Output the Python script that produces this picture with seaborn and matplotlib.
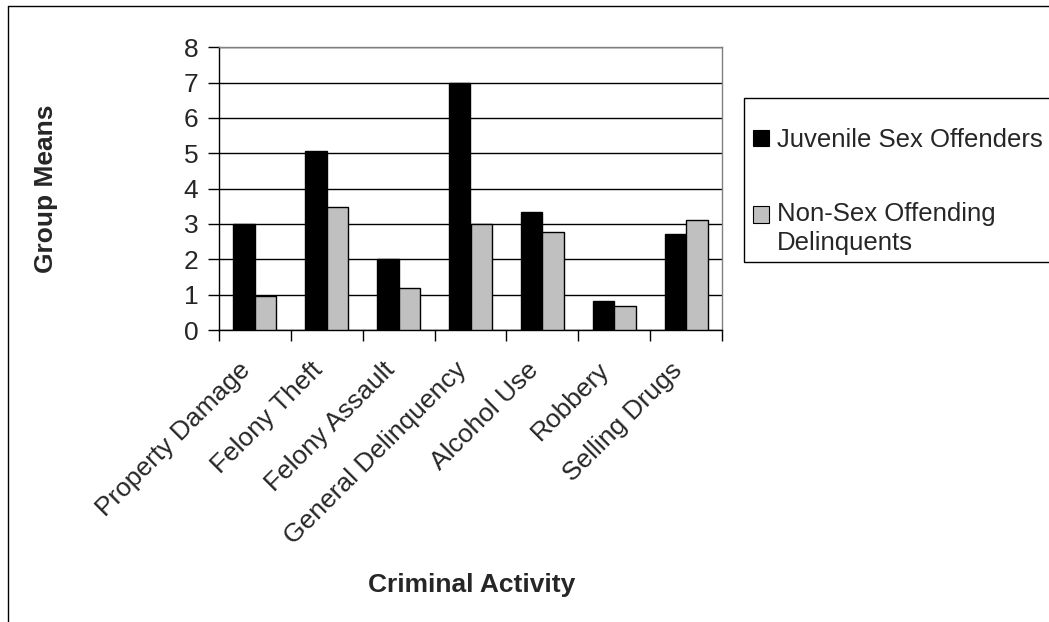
import matplotlib
matplotlib.use("Agg")
import matplotlib.pyplot as plt
from matplotlib.lines import Line2D
from matplotlib.patches import Rectangle
from matplotlib.ticker import FixedLocator
from matplotlib.transforms import ScaledTranslation
import seaborn as sns
import pandas as pd

categories = ["Property Damage", "Felony Theft", "Felony Assault", "General Delinquency",
              "Alcohol Use", "Robbery", "Selling Drugs"]
juvenile_sex_offenders = [3.0, 5.07, 2.0, 7.0, 3.35, 0.82, 2.73]
non_sex_offending = [0.95, 3.48, 1.18, 3.0, 2.77, 0.68, 3.11]
series_names = ["Juvenile Sex Offenders", "Non-Sex Offending\nDelinquents"]
y_ticks = [0, 1, 2, 3, 4, 5, 6, 7, 8]

df = pd.DataFrame({
    "Criminal Activity": categories * 2,
    "Group Means": juvenile_sex_offenders + non_sex_offending,
    "Group": [series_names[0]] * len(categories) + [series_names[1]] * len(categories),
})

sns.set_theme(style="white")
plt.rcParams["font.family"] = ["Liberation Sans", "DejaVu Sans"]

FS = 19
LFS = 18.5
W, H = 1049, 622
fig = plt.figure(figsize=(W / 100, H / 100), dpi=100)
ax = fig.add_axes([219 / W, 1 - 330 / H, (722 - 219) / W, (330 - 47.3) / H])

sns.barplot(data=df, x="Criminal Activity", y="Group Means", hue="Group",
            order=categories, hue_order=series_names,
            palette=["#000000", "#C0C0C0"], width=0.6, ax=ax,
            edgecolor="black", linewidth=1.0, saturation=1, zorder=3)

ax.set_ylim(0, 8)
ax.set_xlim(-0.5, len(categories) - 0.5)
ax.yaxis.set_major_locator(FixedLocator(y_ticks))
ax.set_yticklabels([str(t) for t in y_ticks], fontsize=FS)
ax.grid(axis="y", color="black", linewidth=1.0, zorder=0)
ax.set_axisbelow(True)

# x ticks: labels at centers, tick marks at boundaries
ax.set_xticks(range(len(categories)))
ax.set_xticklabels(categories, rotation=45, ha="right", va="center",
                   rotation_mode="anchor", fontsize=FS)
ax.tick_params(axis="x", which="major", length=0, pad=26)
shift = ScaledTranslation(-8 / 100, 0, fig.dpi_scale_trans)
for lab in ax.get_xticklabels():
    lab.set_transform(lab.get_transform() + shift)
ax.xaxis.set_minor_locator(FixedLocator([i - 0.5 for i in range(len(categories) + 1)]))
ax.tick_params(axis="x", which="minor", length=8, width=1, color="black", direction="out", bottom=True)
ax.tick_params(axis="y", which="major", length=8, width=1, color="black", direction="out",
               left=True, pad=7)

for s in ["left", "bottom"]:
    ax.spines[s].set_color("black")
    ax.spines[s].set_linewidth(1.0)
for s in ["top", "right"]:
    ax.spines[s].set_color("#808080")
    ax.spines[s].set_linewidth(1.0)

ax.set_xlabel("Criminal Activity", fontsize=FS, fontweight="bold")
ax.xaxis.set_label_coords((472 - 219) / (722 - 219), 1 - (585 - 47.3) / (330 - 47.3))
ax.xaxis.label.set_va("center")
ax.set_ylabel("Group Means", fontsize=FS, fontweight="bold")
ax.yaxis.set_label_coords((46 - 219) / (722 - 219), 0.5)
ax.yaxis.label.set_va("center")

# legend box (right side runs off the figure as in the reference)
fig.add_artist(Rectangle((743.5 / W, 1 - 262 / H), 400 / W, (262 - 98) / H,
                         transform=fig.transFigure, facecolor="white",
                         edgecolor="black", linewidth=1.0, zorder=-1))

leg = ax.legend(loc="upper left", bbox_to_anchor=(753 / W, 1 - 128 / H),
                bbox_transform=fig.transFigure, frameon=False, fontsize=LFS,
                handlelength=0.62, handleheight=0.62, handletextpad=0.31,
                labelspacing=1.95, borderpad=0, borderaxespad=0, title=None)
for t in leg.get_texts():
    t.set_linespacing(1.27)
for i, h in enumerate(leg.legend_handles):
    h.set_edgecolor("black")
    h.set_linewidth(0.8)
    if i == 1:
        h.set_y(h.get_y() + 10.4)

# outer figure border (left and top visible)
fig.add_artist(Line2D([7.5 / W, 7.5 / W], [0, 1 - 5.5 / H], transform=fig.transFigure,
                      color="black", linewidth=1.0))
fig.add_artist(Line2D([7.5 / W, 1], [1 - 5.5 / H, 1 - 5.5 / H], transform=fig.transFigure,
                      color="black", linewidth=1.0))

fig.savefig("out.png", dpi=100)
